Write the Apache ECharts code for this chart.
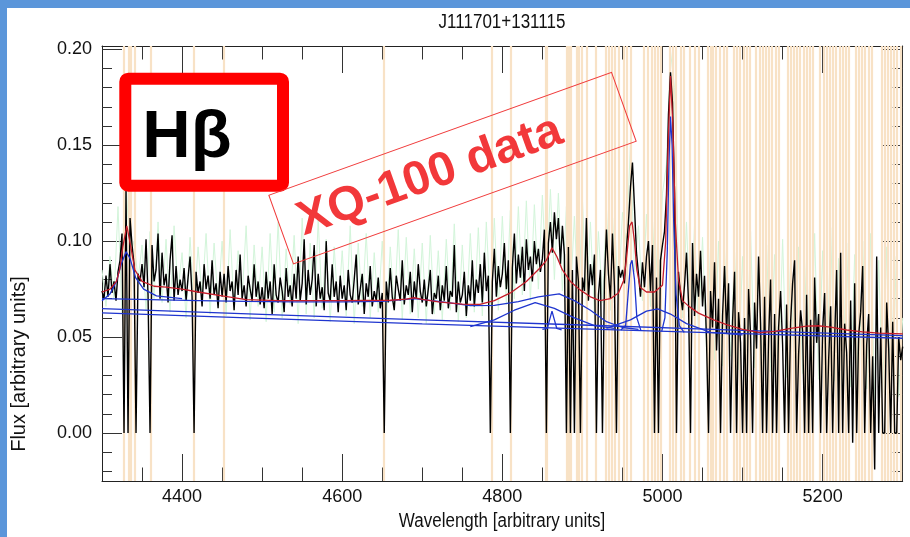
<!DOCTYPE html>
<html><head><meta charset="utf-8">
<script src="https://cdn.jsdelivr.net/npm/echarts@6/dist/echarts.min.js"></script>
<style>html,body{margin:0;padding:0;background:#fff;}#c{width:910px;height:537px;}</style>
</head><body><div id="c"></div>
<script>
// ---------- DATA ----------
const titleText = 'J111701+131115';
const xName = 'Wavelength [arbitrary units]';
const yName = 'Flux [arbitrary units]';
const xMajorTicks = [4400, 4600, 4800, 5000, 5200];
const xMinorTicks = [4350, 4450, 4500, 4550, 4650, 4700, 4750, 4850, 4900, 4950, 5050, 5100, 5150, 5250];
const yMajorTicks = [0, 0.05, 0.10, 0.15, 0.20];
const yMinorTicks = [-0.02, -0.01, 0.01, 0.02, 0.03, 0.04, 0.06, 0.07, 0.08, 0.09, 0.11, 0.12, 0.13, 0.14, 0.16, 0.17, 0.18, 0.19];

// observed spectrum, sampled every 2.5 from 4300
const fluxStart = 4300, fluxStep = 2.5;
const flux = [
 .074,.070,.082,.071,.088,.073,.079,.069,.084,.090,.104,0,.127,0,.112,.098,.088,0,.083,.079,
 .088,.076,.101,.072,0,.098,.079,.085,.104,.070,.094,.077,.083,.068,.090,.103,.069,.087,.072,.080,
 .074,.086,.069,.081,.092,.071,0,.084,.073,.079,.066,.088,.075,.082,.070,.090,.072,.078,.065,.084,
 .071,.083,.068,.087,.074,.079,.064,.085,.072,.093,.070,.077,.066,.082,.075,.069,.088,.071,.079,.067,
 .076,.065,.084,.070,.079,.062,.088,.072,.068,.081,.074,.063,.086,.071,.077,.066,.083,.070,.092,.069,
 .078,.101,.067,.085,.072,.080,.098,.066,.083,.070,.076,.064,.100,.073,.069,.088,.071,.079,.063,.082,
 .070,.077,.064,.085,.072,.068,.080,.093,.067,.075,.083,.062,.078,.071,.087,.066,.074,.069,.081,.065,
 .073,0,.079,.068,.086,.071,.064,.082,.075,.069,.090,.067,.077,.072,.084,.063,.079,.070,.088,.074,
 .068,.080,.066,.075,.085,.062,.073,.070,.082,.064,.077,.069,.087,.065,.074,.071,.098,.063,.079,.068,
 .072,.084,.061,.077,.069,.090,.066,.080,.073,.088,.068,.094,.074,.082,0,.079,.096,.071,.087,.076,
 .083,.099,.075,.090,0,.086,.104,.078,.093,.081,.097,.074,.101,.085,.092,.079,.100,.088,.096,.084,
 .091,.106,0,.099,.110,.094,.115,.101,.112,.088,.108,.093,0,.097,0,.085,0,.092,.079,0,
 .081,.074,.112,.069,.088,.077,.093,0,.072,.085,0,.079,.106,.083,.070,.104,.076,0,.087,.081,
 .085,.078,.096,.110,.128,.141,.118,.094,.083,.071,.089,.076,.092,.100,.074,.098,0,.081,0,.090,
 .098,.105,.124,.166,.188,.172,.125,0,.084,.072,.064,.077,.094,.068,0,.099,.061,.083,.071,.095,
 .066,.082,.048,0,.074,.055,.089,.043,.070,0,.061,.087,.052,.078,0,.058,.084,0,.063,.047,
 0,.060,0,.075,.051,0,.068,.044,.092,.057,0,.071,0,.049,.080,0,.062,0,.055,.074,
 .046,0,.067,0,.058,.078,.090,0,.041,.064,.053,0,.072,0,.059,0,.081,.047,.062,0,
 .054,.073,0,.038,.066,0,.049,.085,0,.094,0,.057,.042,0,.069,-.005,.078,0,.051,.063,
 .087,0,.046,.062,0,.040,-.019,.092,0,.055,0,0,.068,.044,0,.058,0,0,.050,.038,
 .045
];

// light green error spectrum, sampled every 5 from 4300
const errStart = 4300, errStep = 5;
const errorSpec = [
 .085,.066,.092,.070,.118,.062,.131,.092,.100,.080,
 .098,.064,.105,.070,.110,.068,.101,.063,.108,.074,
 .094,.060,.102,.066,.097,.071,.104,.062,.099,.068,
 .100,.061,.106,.064,.095,.070,.108,.059,.098,.066,
 .097,.058,.104,.063,.110,.060,.096,.067,.103,.057,
 .112,.062,.099,.060,.111,.065,.101,.058,.097,.064,
 .095,.061,.108,.057,.099,.066,.104,.060,.094,.063,
 .100,.058,.097,.064,.106,.059,.102,.062,.096,.060,
 .099,.057,.103,.062,.095,.059,.101,.064,.109,.058,
 .098,.060,.104,.063,.107,.061,.110,.066,.112,.064,
 .113,.067,.116,.070,.118,.072,.121,.069,.119,.075,
 .124,.078,.127,.080,.125,.074,.118,.070,.113,.065,
 .122,.066,.110,.062,.105,.068,.117,.064,.112,.070,
 .115,.098,.151,.084,.108,.069,.114,.066,.110,.068,
 .125,.140,.199,.180,.085,.060,.110,.055,.108,.052,
 .102,.042,.097,.038,.100,.035,.096,.040,.094,.033,
 .092,.030,.105,.034,.089,.028,.098,.032,.093,.027,
 .101,.029,.090,.025,.097,.031,.092,.024,.104,.028,
 .095,.022,.107,.027,.091,.020,.099,.024,.093,.018,
 .100,.023,.104,.016,.090,.021,.097,.015,.092,.019,
 .060
];

// total model (red)
const modelTotal = [[4300,.0735],[4310,.0750],[4318,.0790],[4322,.0850],[4326,.0970],[4331,.1080],[4336,.0970],[4341,.0850],[4350,.0790],[4365,.0765],[4380,.0760],[4400,.0750],[4420,.0735],[4450,.0715],[4480,.0695],[4520,.0690],[4600,.0690],[4660,.0692],[4680,.0698],[4690,.0705],[4700,.0697],[4720,.0683],[4750,.0672],[4772,.0670],[4790,.0690],[4810,.0730],[4830,.0790],[4847,.0860],[4855,.0900],[4862,.0965],[4868,.0920],[4875,.0850],[4885,.0790],[4897,.0746],[4910,.0710],[4922,.0690],[4935,.0700],[4945,.0730],[4952,.0800],[4956,.0950],[4959,.1080],[4962,.1100],[4965,.1000],[4968,.0850],[4972,.0760],[4980,.0735],[4990,.0735],[5000,.0770],[5004,.1000],[5007,.1500],[5010,.1860],[5013,.1600],[5016,.1100],[5020,.0800],[5025,.0690],[5033,.0660],[5045,.0625],[5064,.0590],[5080,.0565],[5100,.0540],[5122,.0523],[5140,.0530],[5160,.0545],[5180,.0557],[5194,.0559],[5210,.0552],[5230,.0537],[5250,.0527],[5270,.0521],[5300,.0517]];

// fitted components (blue)
const compContinuumA = [[4300,.0626],[4500,.0597],[4700,.0569],[4900,.0543],[5100,.0518],[5300,.0494]];
const compContinuumB = [[4300,.0648],[4500,.0618],[4700,.0590],[4900,.0563],[5100,.0535],[5300,.0508]];
const compBroadFe = [[4300,.0700],[4360,.0695],[4420,.0690],[4480,.0686],[4540,.0684],[4600,.0683],[4650,.0686],[4690,.0700],[4720,.0686],[4760,.0664],[4790,.0665],[4820,.0685],[4845,.0710],[4871,.0725],[4890,.0690],[4910,.0640],[4930,.0580],[4950,.0550],[4970,.0540]];
const compHgamma = [[4300,.0690],[4310,.0725],[4318,.0790],[4324,.0880],[4330,.0945],[4335,.0910],[4342,.0810],[4352,.0750],[4368,.0715],[4400,.0700]];
const compHbetaBroad = [[4760,.0555],[4790,.0590],[4815,.0640],[4841,.0680],[4865,.0650],[4890,.0600],[4915,.0560],[4940,.0545]];
const compHbetaNarrow = [[4850,.0540],[4856,.0545],[4859,.0590],[4862,.0635],[4865,.0590],[4868,.0545],[4874,.0538]];
const compOIII4959 = [[4948,.0537],[4954,.0560],[4957,.0720],[4960,.0880],[4962,.0900],[4965,.0800],[4968,.0600],[4973,.0535]];
const compOIII5007 = [[4999,.0530],[5003,.0600],[5006,.0950],[5008,.1400],[5010,.1650],[5012,.1500],[5014,.1100],[5017,.0720],[5021,.0560],[5027,.0525]];
const compOIIIWing = [[4930,.0545],[4960,.0590],[4980,.0635],[4994,.0647],[5010,.0620],[5030,.0570],[5060,.0525],[5100,.0512]];

// masked wavelengths (light orange)
const maskLambda = [4327,4333,4336,4341,4361,4414,4452,4652,4787,4810,4854,4856,4880,4883,4886,4893,4896,4899,4906,4917,4929,4933,4937,4941,4945,4952,4955,4960,4976,4981,4986,4990,4994,4998,5009,5013,5016,5023,5027,5034,5040,5045,5057,5060,5063,5067,5072,5076,5080,5089,5093,5097,5101,5105,5109,5117,5121,5125,5129,5133,5137,5141,5145,5157,5160,5164,5168,5172,5176,5180,5184,5188,5197,5201,5205,5209,5213,5217,5221,5225,5229,5233,5241,5245,5249,5253,5257,5261,5274,5277,5281,5285,5289,5293,5297];

// ---------- CHART ----------
const FONT = "'Liberation Sans',Arial,sans-serif";
const chart = echarts.init(document.getElementById('c'), null, {renderer: 'canvas'});
const fluxData = flux.map((v, i) => [fluxStart + i * fluxStep, v]);
const errData = errorSpec.map((v, i) => [errStart + i * errStep, v]);
const XMIN = 4300, XMAX = 5300, YMIN = -0.025, YMAX = 0.2017;
function xAx(pos, ticks, len, showLabel, showLine) {
  return {type: 'value', min: XMIN, max: XMAX, position: pos, gridIndex: 0,
    axisLine: {show: showLine, onZero: false, lineStyle: {color: '#222', width: 1}},
    axisTick: {show: true, inside: true, length: len, customValues: ticks, lineStyle: {color: '#333', width: 1}},
    axisLabel: {show: showLabel, customValues: ticks, color: '#111', fontSize: 18, fontFamily: FONT, margin: 7,
      formatter: v => String(v)},
    splitLine: {show: false}};
}
function yAx(pos, ticks, len, showLabel, showLine) {
  return {type: 'value', min: YMIN, max: YMAX, position: pos, gridIndex: 0,
    axisLine: {show: showLine, onZero: false, lineStyle: {color: '#222', width: 1}},
    axisTick: {show: true, inside: true, length: len, customValues: ticks, lineStyle: {color: '#333', width: 1}},
    axisLabel: {show: showLabel, customValues: ticks, color: '#111', fontSize: 18, fontFamily: FONT, margin: 10,
      formatter: v => v.toFixed(2)},
    splitLine: {show: false}};
}
function lineSeries(data, color, width, z) {
  return {type: 'line', data: data, xAxisIndex: 0, yAxisIndex: 0, showSymbol: false, symbol: 'none',
    smooth: false, lineStyle: {color: color, width: width}, z: z, silent: true, clip: true};
}
const BLUE = '#1f35cf', RED = '#c51d2a';
const option = {
  animation: false,
  backgroundColor: '#ffffff',
  grid: {left: 102, right: 7.3, top: 46, bottom: 56, containLabel: false},
  xAxis: [
    xAx('bottom', xMajorTicks, 27, true, true),
    xAx('bottom', xMinorTicks, 13.5, false, false),
    xAx('top', xMajorTicks, 27, false, true),
    xAx('top', xMinorTicks, 13.5, false, false)
  ],
  yAxis: [
    yAx('left', yMajorTicks, 20, true, true),
    yAx('left', yMinorTicks, 10, false, false),
    yAx('right', yMajorTicks, 20, false, true),
    yAx('right', yMinorTicks, 10, false, false)
  ],
  series: [
    {type: 'line', data: [], xAxisIndex: 0, yAxisIndex: 0, z: 1, silent: true,
      markLine: {silent: true, symbol: ['none', 'none'], label: {show: false}, animation: false,
        lineStyle: {color: '#f8e2c6', width: 2.2, type: 'solid'},
        data: maskLambda.map(v => ({xAxis: v}))}},
    lineSeries(errData, '#d3f5da', 1, 2),
    lineSeries(fluxData, '#000000', 1.4, 10),
    lineSeries(compContinuumA, BLUE, 1.3, 11),
    lineSeries(compContinuumB, BLUE, 1.3, 11),
    lineSeries(compBroadFe, BLUE, 1.3, 11),
    lineSeries(compHgamma, BLUE, 1.3, 11),
    lineSeries(compHbetaBroad, BLUE, 1.3, 11),
    lineSeries(compHbetaNarrow, BLUE, 1.3, 11),
    lineSeries(compOIII4959, BLUE, 1.3, 11),
    lineSeries(compOIII5007, BLUE, 1.3, 11),
    lineSeries(compOIIIWing, BLUE, 1.3, 11),
    lineSeries(modelTotal, RED, 1.3, 12)
  ],
  graphic: [
    {type: 'rect', shape: {x: 0, y: 0, width: 910, height: 8}, style: {fill: '#5b96da'}, z: 100},
    {type: 'rect', shape: {x: 0, y: 0, width: 7, height: 537}, style: {fill: '#5b96da'}, z: 100},
    {type: 'text', x: 502, y: 22, scaleX: 0.85, style: {text: titleText, font: "20px " + FONT, fill: '#111', align: 'center', verticalAlign: 'middle'}, z: 100},
    {type: 'text', x: 502, y: 521, scaleX: 0.85, style: {text: xName, font: "20px " + FONT, fill: '#111', align: 'center', verticalAlign: 'middle'}, z: 100},
    {type: 'text', x: 19, y: 364, rotation: Math.PI / 2, style: {text: yName, font: "20px " + FONT, fill: '#111', align: 'center', verticalAlign: 'middle'}, z: 100},
    {type: 'rect', shape: {x: 125.3, y: 78.7, width: 157.7, height: 107, r: 3}, style: {fill: '#ffffff', stroke: '#ff0000', lineWidth: 12, lineJoin: 'round'}, z: 100},
    {type: 'text', x: 187, y: 139, style: {text: 'Hβ', font: "bold 67px 'Liberation Sans', Arial, sans-serif", fill: '#000', align: 'center', verticalAlign: 'middle'}, z: 101},
    {type: 'rect', x: 452.5, y: 168.2, rotation: 0.344, shape: {x: -182, y: -36.5, width: 364, height: 73}, style: {fill: 'none', stroke: '#f03a3a', lineWidth: 1}, z: 100},
    {type: 'text', x: 430, y: 176.3, rotation: 0.344, style: {text: 'XQ-100 data', font: "bold 48px 'Liberation Sans', Arial, sans-serif", fill: '#f2383a', align: 'center', verticalAlign: 'middle'}, z: 101}
  ]
};
chart.setOption(option);
</script>
</body></html>
